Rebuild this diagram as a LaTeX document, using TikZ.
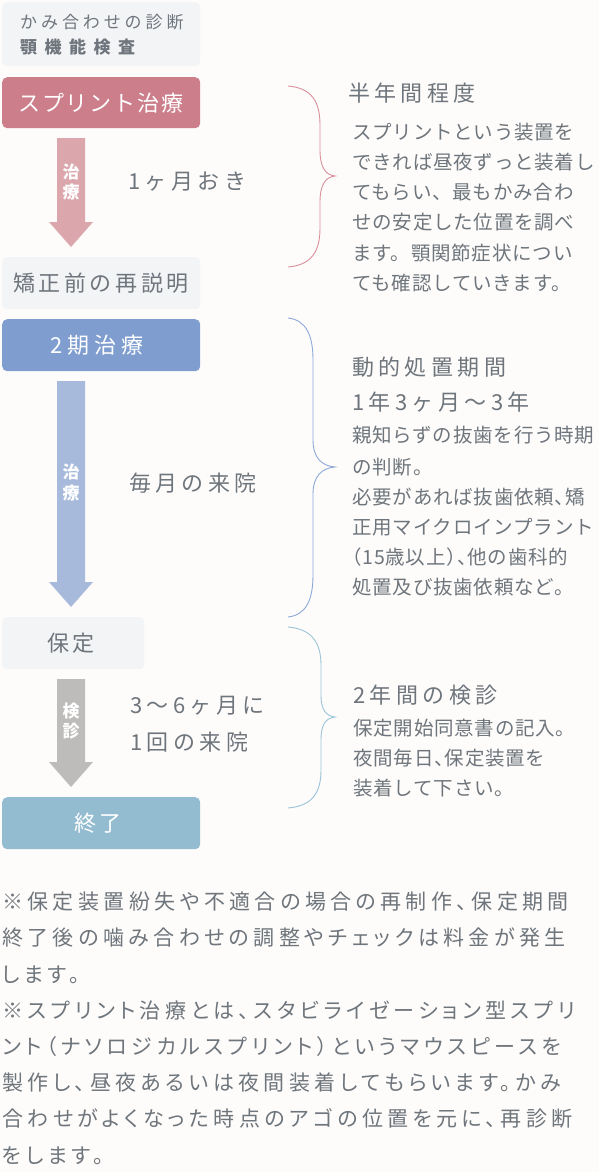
\documentclass[tikz,border=0pt]{standalone}
\usepackage{fontspec}
\setmainfont{Noto Sans CJK JP}
\newcommand\LS[1]{\addfontfeature{LetterSpace=#1}}
\newcommand\fs[1]{\fontsize{#1}{#1}\selectfont}
\definecolor{bgc}{HTML}{FDFCFA}
\definecolor{boxgray}{HTML}{F3F4F6}
\definecolor{txtc}{HTML}{6E757C}
\definecolor{pinkbox}{HTML}{CC7E8A}
\definecolor{pinkarrow}{HTML}{DCA6AD}
\definecolor{bluebox}{HTML}{7F9ECF}
\definecolor{bluearrow}{HTML}{A8BADC}
\definecolor{grayarrow}{HTML}{BDBCBA}
\definecolor{tealbox}{HTML}{93BCD0}
\definecolor{braceA}{HTML}{D8909C}
\definecolor{braceB}{HTML}{8EA8D9}
\definecolor{braceC}{HTML}{9AC4D8}
\tikzset{
  box/.style={rectangle, rounded corners=5pt, inner sep=0pt, anchor=north west, draw=none},
  t/.style={inner sep=0pt, text=txtc},
  boxtxt/.style={t, anchor=base, font=\fs{22}\LS{16}},
  whitetxt/.style={boxtxt, text=white},
  arrtxt/.style={inner sep=0pt, anchor=base, text=white, font=\fs{17}\bfseries},
  lbl/.style={t, anchor=base west, font=\fs{22}\LS{20}},
  head/.style={t, anchor=base west, font=\fs{22}\LS{20}},
  para/.style={t, anchor=base west, font=\fs{19.5}\LS{4}},
  note/.style={t, anchor=base west, font=\addfontfeature{RawFeature=+palt}\fs{21}\LS{21}},
  bracepath/.style={line width=0.9pt}
}
\begin{document}
\begin{tikzpicture}[x=1pt,y=-1pt]
\fill[bgc] (0,0) rectangle (599,1172);
\useasboundingbox (0,0) rectangle (599,1172);

% boxes
\node[box, fill=boxgray, minimum width=198pt, minimum height=64pt] (b1) at (2,2) {};
\node[box, fill=pinkbox, minimum width=198pt, minimum height=51pt] (b2) at (2,77) {};
\node[box, fill=boxgray, minimum width=198pt, minimum height=52pt] (b3) at (2,257) {};
\node[box, fill=bluebox, minimum width=198pt, minimum height=52pt] (b4) at (2,319) {};
\node[box, fill=boxgray, minimum width=142pt, minimum height=52pt] (b5) at (2,617) {};
\node[box, fill=tealbox, minimum width=198pt, minimum height=52pt] (b6) at (2,797) {};

% box texts
\node[t, anchor=base west, font=\fs{17}\LS{23}] (b1a) at (20,28.5) {かみ合わせの診断};
\node[t, anchor=base west, font=\fs{17}\bfseries\LS{44}] (b1b) at (20,53.5) {顎機能検査};
\node[whitetxt, font=\fs{22}\LS{9}] (b2t) at (101,111.4) {スプリント治療};
\node[boxtxt] (b3t) at (101,291.4) {矯正前の再説明};
\node[whitetxt, font=\fs{22}\LS{22}] (b4t) at (97,353.4) {2期治療};
\node[boxtxt] (b5t) at (71,651.4) {保定};
\node[whitetxt] (b6t) at (98,831.4) {終了};

% fat arrows
\fill[pinkarrow] (57,138) -- (85,138) -- (85,222) -- (93,222) -- (71,247) -- (49,222) -- (57,222) -- cycle;
\fill[bluearrow] (57,381) -- (85,381) -- (85,582) -- (93,582) -- (71,607) -- (49,582) -- (57,582) -- cycle;
\fill[grayarrow] (57,679) -- (85,679) -- (85,762) -- (93,762) -- (71,787) -- (49,762) -- (57,762) -- cycle;
\node[arrtxt] (a1a) at (71,178.5) {治};
\node[arrtxt] (a1b) at (71,198.5) {療};
\node[arrtxt] (a2a) at (71,478.5) {治};
\node[arrtxt] (a2b) at (71,499.5) {療};
\node[arrtxt] (a3a) at (71,717.5) {検};
\node[arrtxt] (a3b) at (71,737.5) {診};

% labels beside arrows
\node[lbl] (l1) at (128,189.4) {1ヶ月おき};
\node[lbl] (l2) at (129,491.4) {毎月の来院};
\node[lbl] (l3) at (130,713.4) {3〜6ヶ月に};
\node[lbl] (l4) at (130,750.4) {1回の来院};

% braces
\draw[braceA, bracepath] (288,86) .. controls (312,88) and (320,102) .. (320,125) -- (320,150)
  .. controls (320,168) and (326,175) .. (335,176) .. controls (326,177) and (320,184) .. (320,202)
  -- (320,228) .. controls (320,251) and (312,265) .. (288,267);
\draw[braceB, bracepath] (288,318) .. controls (306,320) and (313,335) .. (313,360) -- (313,440)
  .. controls (313,458) and (322,466) .. (335,467) .. controls (322,468) and (313,476) .. (313,494)
  -- (313,575) .. controls (313,600) and (306,615) .. (288,617);
\draw[braceC, bracepath] (288,627) .. controls (312,629) and (321,643) .. (321,665) -- (321,695)
  .. controls (321,710) and (326,716) .. (335,717) .. controls (326,718) and (321,724) .. (321,740)
  -- (321,770) .. controls (321,793) and (312,806) .. (288,808);

% right side texts
\node[head] (h1) at (348,101.4) {半年間程度};
\node[para] (p11) at (352,139.6) {スプリントという装置を};
\node[para] (p12) at (352,169.6) {できれば昼夜ずっと装着し};
\node[para] (p13) at (352,199.6) {てもらい、最もかみ合わ};
\node[para] (p14) at (352,229.6) {せの安定した位置を調べ};
\node[para] (p15) at (352,260.6) {ます。顎関節症状につい};
\node[para] (p16) at (352,290.6) {ても確認していきます。};

\node[head] (h2) at (352,375.4) {動的処置期間};
\node[head] (h3) at (352,410.4) {1年3ヶ月〜3年};
\node[para] (p21) at (352,442.6) {親知らずの抜歯を行う時期};
\node[para] (p22) at (352,474.3) {の判断。};
\node[para] (p23) at (352,504.3) {必要があれば抜歯依頼、\kern-9pt矯};
\node[para] (p24) at (352,534.3) {正用マイクロインプラント};
\node[para] (p25) at (352,564.3) {\kern-10pt（15歳以上）\kern-9pt、\kern-9pt他の歯科的};
\node[para] (p26) at (352,594.3) {処置及び抜歯依頼など。};

\node[head] (h4) at (353,703.4) {2年間の検診};
\node[para] (p31) at (353,735.6) {保定開始同意書の記入。};
\node[para] (p32) at (353,765.6) {夜間毎日、\kern-9pt保定装置を};
\node[para] (p33) at (353,795.6) {装着して下さい。};

% notes
\node[note] (n1) at (2,909.6) {※保定装置紛失や不適合の場合の再制作、保定期間};
\node[note] (n2) at (2,945.8) {終了後の噛み合わせの調整やチェックは料金が発生};
\node[note] (n3) at (2,982) {します。};
\node[note] (n4) at (2,1018.2) {※スプリント治療とは、スタビライゼーション型スプリ};
\node[note] (n5) at (2,1054.4) {ント（ナソロジカルスプリント）というマウスピースを};
\node[note] (n6) at (2,1090.6) {製作し、昼夜あるいは夜間装着してもらいます。かみ};
\node[note] (n7) at (2,1126.8) {合わせがよくなった時点のアゴの位置を元に、再診断};
\node[note] (n8) at (2,1163) {をします。};
\end{tikzpicture}
\end{document}
